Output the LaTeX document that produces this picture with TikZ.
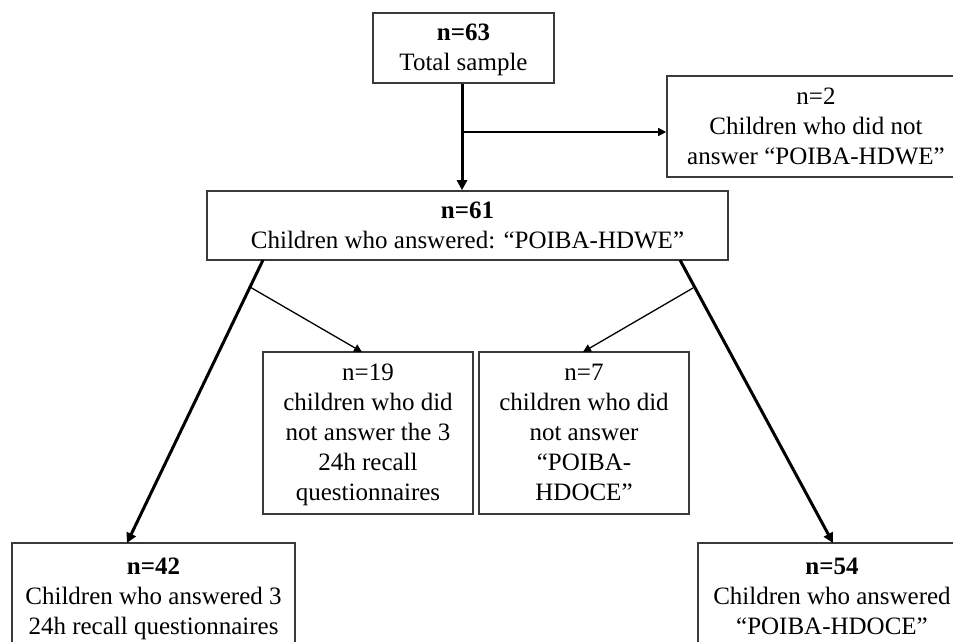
\documentclass[tikz,border=0pt]{standalone}
\usepackage{fontspec}
\setmainfont{Liberation Serif}
\usetikzlibrary{arrows.meta,calc}
\definecolor{boxline}{HTML}{3A3A3A}
\newcommand{\TopRule}{\rule{0pt}{25pt}}
\newcommand{\BotRule}{\rule[-10pt]{0pt}{10pt}}
\begin{document}
\begin{tikzpicture}[x=1pt,y=-1pt,
  box/.style={draw=boxline,line width=1.6pt,inner sep=0pt,align=center,
    font=\fontsize{25}{30}\selectfont},
  thickarrow/.style={line width=3pt,-{Triangle[width=10pt,length=10pt]}},
  thinarrow/.style={line width=1.3pt,-{Triangle[width=8pt,length=8pt]}}]
\useasboundingbox (0,0) rectangle (953,641);
% boxes
\node[box,minimum width=181pt,minimum height=70pt] (b1) at (463.5,48) {\TopRule\textbf{n=63}\\Total sample\BotRule};
\node[box,minimum width=298pt,minimum height=101pt] (b3) at (816,126.5) {\TopRule n=2\\Children who did not\\answer ``POIBA-HDWE''\BotRule};
\node[box,minimum width=521pt,minimum height=69pt] (b2) at (467.5,225.5) {\TopRule\textbf{n=61}\\Children who answered: ``POIBA-HDWE''\BotRule};
\node[box,minimum width=210pt,minimum height=162pt] (b6) at (368,433) {\TopRule n=19\\children who did\\not answer the 3\\24h recall\\questionnaires\BotRule};
\node[box,minimum width=210pt,minimum height=162pt] (b7) at (584,433) {\TopRule n=7\\children who did\\not answer\\``POIBA-\\HDOCE''\BotRule};
\node[box,minimum width=283pt,minimum height=108pt] (b4) at (153.5,597) {\TopRule\textbf{n=42}\\Children who answered 3\\24h recall questionnaires\BotRule};
\node[box,minimum width=268pt,minimum height=108pt] (b5) at (832,597) {\TopRule\textbf{n=54}\\Children who answered\\``POIBA-HDOCE''\BotRule};
% connector points
\coordinate (s1) at (462,0);
\coordinate (j1) at (462,132);
\coordinate (l0) at (263,260);
\coordinate (l1) at (127,543);
\coordinate (r0) at (680,260);
\coordinate (r1) at (833,543);
\coordinate (lt) at (250,287);
\coordinate (rt) at (693,288);
\coordinate (lte) at (362,352);
\coordinate (rte) at (583,352);
% connectors
\draw[thickarrow] (s1 |- b1.south) -- (s1 |- b2.north);
\draw[thinarrow] (j1) -- (j1 -| b3.west);
\draw[thickarrow] (l0) -- (l1);
\draw[thickarrow] (r0) -- (r1);
\draw[thinarrow] (lt) -- (lte);
\draw[thinarrow] (rt) -- (rte);
\end{tikzpicture}
\end{document}
